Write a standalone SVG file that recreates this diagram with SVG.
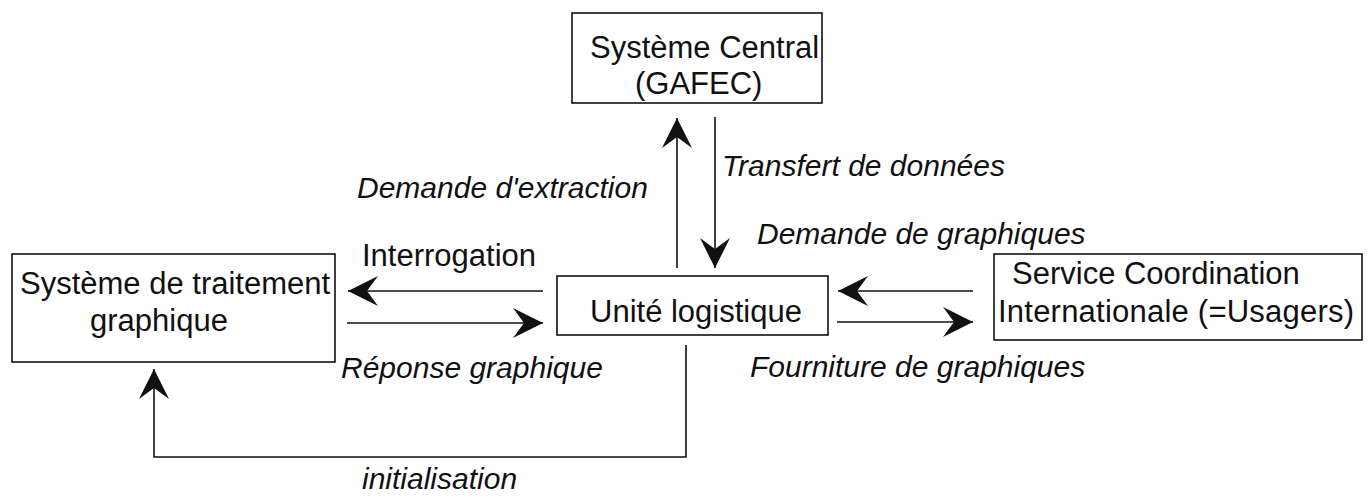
<svg xmlns="http://www.w3.org/2000/svg" width="1368" height="498" viewBox="0 0 1368 498">
<style>
.box{fill:#fff;stroke:#111;stroke-width:1.6}
.t{font-family:"Liberation Sans",Arial,sans-serif;font-size:31px;fill:#111}
.i{font-style:italic;font-size:30px}
.c{fill:none;stroke:#111;stroke-width:1.6}
</style>
<defs>
<marker id="ah" markerUnits="userSpaceOnUse" viewBox="-31 -16 32 32" markerWidth="32" markerHeight="32" refX="0" refY="0" orient="auto">
<path d="M0,0 L-30,-15 L-19,0 L-30,15 Z" fill="#111"/>
</marker>
</defs>
<rect width="1368" height="498" fill="#fff"/>
<g id="central">
<rect class="box" x="572" y="13" width="250" height="90"/>
<text class="t" x="590" y="58">Système Central</text>
<text class="t" x="635" y="94">(GAFEC)</text>
</g>
<g id="traitement">
<rect class="box" x="12" y="254" width="323" height="108"/>
<text class="t" x="20" y="294">Système de traitement</text>
<text class="t" x="90" y="331">graphique</text>
</g>
<g id="unite">
<rect class="box" x="557" y="276" width="271" height="59"/>
<text class="t" x="590" y="322">Unité logistique</text>
</g>
<g id="service">
<rect class="box" x="994" y="254" width="368" height="86"/>
<text class="t" x="1012" y="284">Service Coordination</text>
<text class="t" x="998" y="322" textLength="356">Internationale (=Usagers)</text>
</g>
<g id="connectors">
<line class="c" x1="677" y1="268" x2="677" y2="118" marker-end="url(#ah)"/>
<line class="c" x1="715" y1="117" x2="715" y2="268" marker-end="url(#ah)"/>
<line class="c" x1="543" y1="291" x2="348" y2="291" marker-end="url(#ah)"/>
<line class="c" x1="347" y1="323" x2="543" y2="323" marker-end="url(#ah)"/>
<line class="c" x1="973" y1="291" x2="838" y2="291" marker-end="url(#ah)"/>
<line class="c" x1="837" y1="322" x2="973" y2="322" marker-end="url(#ah)"/>
<polyline class="c" points="686,345 686,457 154,457 154,369" marker-end="url(#ah)"/>
<text class="t i" x="722" y="176">Transfert de données</text>
<text class="t i" x="357" y="198">Demande d'extraction</text>
<text class="t i" x="757" y="244">Demande de graphiques</text>
<text class="t" x="362" y="266">Interrogation</text>
<text class="t i" x="341" y="378">Réponse graphique</text>
<text class="t i" x="750" y="377">Fourniture de graphiques</text>
<text class="t i" x="362" y="489">initialisation</text>
</g>
</svg>
